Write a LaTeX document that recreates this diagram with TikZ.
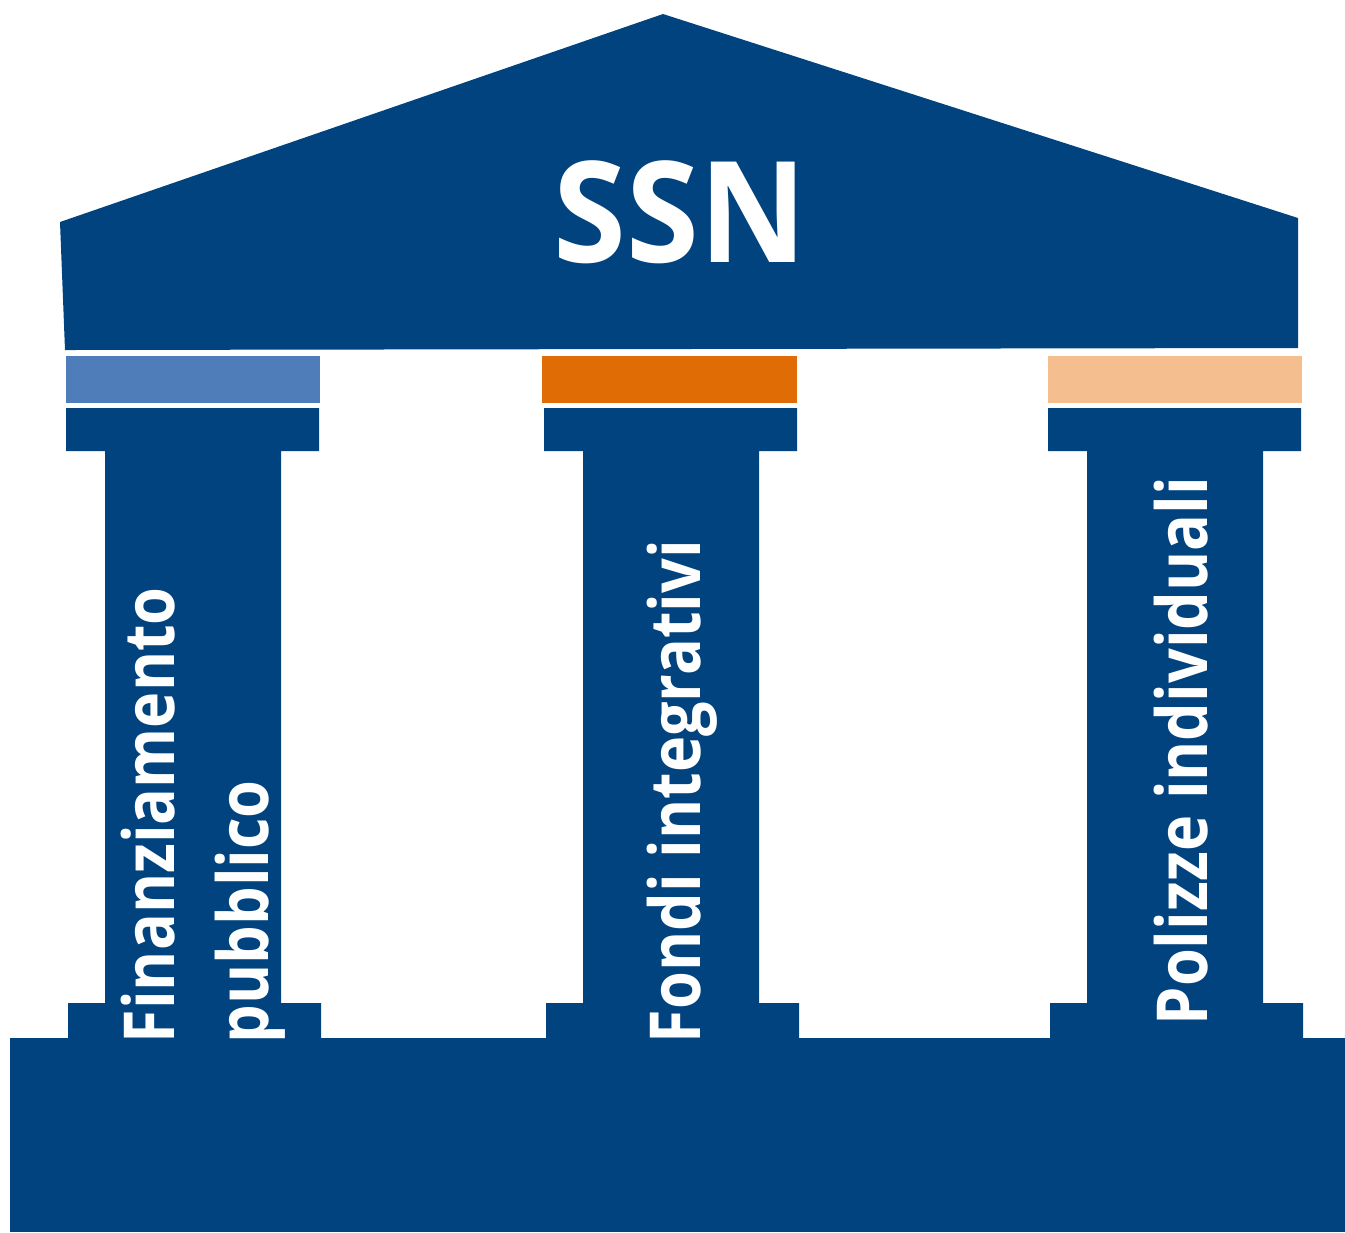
\documentclass[tikz,border=0pt]{standalone}
\usepackage{fontspec}
\setmainfont{Open Sans}
\newfontfamily\pillarfont[FakeStretch=0.87]{Open Sans}
\newfontfamily\titlefont[FakeStretch=0.94]{Open Sans}
\usetikzlibrary{positioning}
\definecolor{ssnblue}{RGB}{0,67,127}
\definecolor{bandblue}{RGB}{79,125,186}
\definecolor{bandorange}{RGB}{224,108,6}
\definecolor{bandpeach}{RGB}{245,190,142}
\tikzset{
    x=0.01cm, y=-0.01cm,
    stone/.style={fill=ssnblue, draw=none},
    band/.style={draw=none},
    pillartext/.style={text=white, font=\pillarfont\bfseries\fontsize{20}{26.7}\selectfont,
        rotate=90, inner sep=0pt, align=left, anchor=base west},
    title/.style={text=white, font=\titlefont\bfseries\fontsize{40}{40}\selectfont, inner sep=0pt}
}

\begin{document}
\begin{tikzpicture}
    \useasboundingbox (0,0) rectangle (1345,1232);
    % roof
    \fill[stone] (663,14) -- (1298,218) -- (1298,348) -- (65,350) -- (60,222) -- cycle;
    \node[title] (ssn) at (680,212) {SSN};
    % coloured bands
    \fill[band,bandblue]   (66,356)   rectangle (320,403);
    \fill[band,bandorange] (542,356)  rectangle (797,403);
    \fill[band,bandpeach]  (1048,356) rectangle (1302,403);
    % the three pillars
    \foreach \l in {66,544,1048} {
        \fill[stone] (\l,408) -- ++(253,0) -- ++(0,43) -- ++(-38,0) -- ++(0,552)
            -- ++(40,0) -- ++(0,36) -- ++(-253,0) -- ++(0,-36) -- ++(37,0)
            -- ++(0,-552) -- ++(-39,0) -- cycle;
    }
    % stylobate
    \fill[stone] (10,1038) rectangle (1345,1232);
    % labels
    \node[pillartext] (finanz) at (268,1044) {Finanziamento\\pubblico};
    \node[pillartext] (fondi) at (700,1044) {Fondi integrativi};
    \node[pillartext] (polizze) at (1207,1026) {Polizze individuali};
\end{tikzpicture}
\end{document}
